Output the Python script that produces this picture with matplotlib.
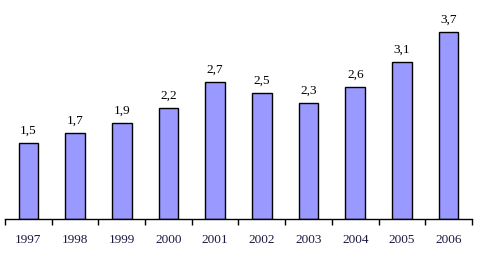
import matplotlib
matplotlib.use("Agg")
import matplotlib.pyplot as plt
import numpy as np

years = ["1997", "1998", "1999", "2000", "2001", "2002", "2003", "2004", "2005", "2006"]
values = [1.5, 1.7, 1.9, 2.2, 2.7, 2.5, 2.3, 2.6, 3.1, 3.7]
labels = ["1,5", "1,7", "1,9", "2,2", "2,7", "2,5", "2,3", "2,6", "3,1", "3,7"]

W, H = 487, 265
fig = plt.figure(figsize=(W / 100, H / 100), dpi=100)
ax_left, ax_right = 5, 472
ax_bottom = 219
ymax = 4.0
px_per_unit = 50.6
ax_h = ymax * px_per_unit
ax = fig.add_axes([ax_left / W, (H - ax_bottom) / H, (ax_right - ax_left) / W, ax_h / H])

plt.rcParams['font.family'] = ['Liberation Serif']
x = np.arange(len(years))
ax.bar(x, values, width=0.42, color="#9999FF", edgecolor="black", linewidth=1.0)
ax.set_xlim(-0.5, len(years) - 0.5)
ax.set_ylim(0, ymax)

for xi, v, lab in zip(x, values, labels):
    ax.annotate(lab, (xi, v), xytext=(0, 4.5), textcoords="offset points",
                ha="center", va="bottom", fontsize=9.5, family="Liberation Serif", color="black")

for s in ["top", "right", "left"]:
    ax.spines[s].set_visible(False)
ax.spines["bottom"].set_linewidth(1.0)
ax.set_yticks([])
ax.set_xticks(x)
ax.set_xticklabels(years, fontsize=9.5, family="Liberation Serif", color="#1a1a40")
ax.tick_params(axis="x", which="major", length=0, pad=11)
ax.set_xticks(np.arange(-0.5, len(years), 1.0), minor=True)
ax.tick_params(axis="x", which="minor", length=4, width=1.0, direction="out")

fig.savefig("out.png", dpi=100)
